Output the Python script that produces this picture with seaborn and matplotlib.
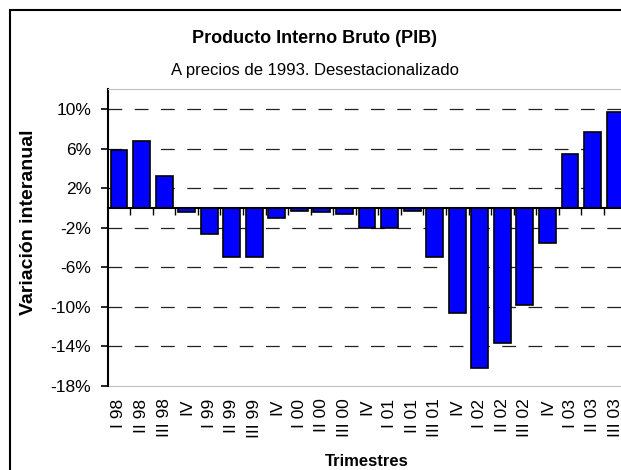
import numpy as np
import pandas as pd
import seaborn as sns
import matplotlib.pyplot as plt
from matplotlib.patches import Rectangle

# PIB, variacion interanual (%) por trimestre
quarters = ['I 98', 'II 98', 'III 98', 'IV 98', 'I 99', 'II 99', 'III 99', 'IV 99',
            'I 00', 'II 00', 'III 00', 'IV 00', 'I 01', 'II 01', 'III 01', 'IV 01',
            'I 02', 'II 02', 'III 02', 'IV 02', 'I 03', 'II 03', 'III 03']
tick_labels = ['I 98', 'II 98', 'III 98', 'IV', 'I 99', 'II 99', 'III 99', 'IV',
               'I 00', 'II 00', 'III 00', 'IV', 'I 01', 'II 01', 'III 01', 'IV',
               'I 02', 'II 02', 'III 02', 'IV', 'I 03', 'II 03', 'III 03']
variation = [5.9, 6.8, 3.2, -0.4, -2.6, -5.0, -5.0, -1.0,
             -0.3, -0.4, -0.6, -2.0, -2.0, -0.3, -5.0, -10.6,
             -16.2, -13.6, -9.8, -3.5, 5.5, 7.7, 9.7]
yticks = [-18, -14, -10, -6, -2, 2, 6, 10]

df = pd.DataFrame({'quarter': quarters, 'variation': variation})
n = len(quarters)

sns.set_style('white')
plt.rcParams['font.family'] = ['Liberation Sans', 'DejaVu Sans']
plt.rcParams['text.color'] = 'black'
plt.rcParams['xtick.color'] = 'black'
plt.rcParams['ytick.color'] = 'black'
plt.rcParams['axes.labelcolor'] = 'black'

fig = plt.figure(figsize=(6.21, 4.70), dpi=100)
ax = fig.add_axes([0.1734, 0.1787, 0.8353, 0.631])

sns.barplot(data=df, x='quarter', y='variation', color='#0000ff', saturation=1,
            edgecolor='black', linewidth=1.2, width=0.75, ax=ax)

ax.set_xlim(-0.5, n - 0.5)
ax.set_ylim(-18, 12)
ax.set_xlabel('')
ax.set_ylabel('')

# y axis
ax.set_yticks(yticks, labels=[f'{v}%' for v in yticks])
ax.tick_params(axis='y', left=True, direction='out', length=5, width=1.2,
               color='black', labelcolor='black', pad=7, labelsize=12.5)
ax.yaxis.grid(True, linestyle=(0, (11, 10)), color='#222222', linewidth=0.9)
ax.get_ygridlines()[0].set_visible(False)
ax.set_axisbelow(True)

# category axis crossing at zero
ax.spines['bottom'].set_position(('data', 0))
ax.spines['bottom'].set_color('black')
ax.spines['bottom'].set_linewidth(1.5)
ax.spines['left'].set_color('black')
ax.spines['left'].set_linewidth(1.5)
ax.spines['top'].set_color('#c0c0c0')
ax.spines['right'].set_visible(False)
ax.tick_params(axis='x', which='major', length=0, labelbottom=False)
ax.set_xticks(np.arange(0.5, n - 0.5), minor=True)
ax.tick_params(axis='x', which='minor', bottom=True, direction='out',
               length=5, width=1, color='black')

# labels at the bottom of the plot area
sec = ax.secondary_xaxis('bottom')
sec.set_xticks(range(n), labels=tick_labels, rotation=90, fontsize=12.5)
sec.tick_params(length=0, pad=9, labelcolor='black')
sec.spines['bottom'].set_color('#c0c0c0')

fig.text(315 / 621, 1 - 43 / 470, 'Producto Interno Bruto (PIB)',
         ha='center', va='baseline', fontsize=13, fontweight='bold', color='black')
fig.text(315 / 621, 1 - 75 / 470, 'A precios de 1993. Desestacionalizado',
         ha='center', va='baseline', fontsize=12, color='black')
fig.text(29 / 621, 1 - 222 / 470, 'Variación interanual', rotation=90,
         ha='center', va='center', fontsize=14, fontweight='bold', color='black')
fig.text(367 / 621, 1 - 461 / 470, 'Trimestres',
         ha='center', va='center', fontsize=12, fontweight='bold', color='black')

fig.patches.append(Rectangle((10 / 621, -0.1), 1.2, 1.1 - 10 / 470, fill=False,
                             edgecolor='black', linewidth=1.5,
                             transform=fig.transFigure, clip_on=False))

fig.savefig('out.png', dpi=100)
